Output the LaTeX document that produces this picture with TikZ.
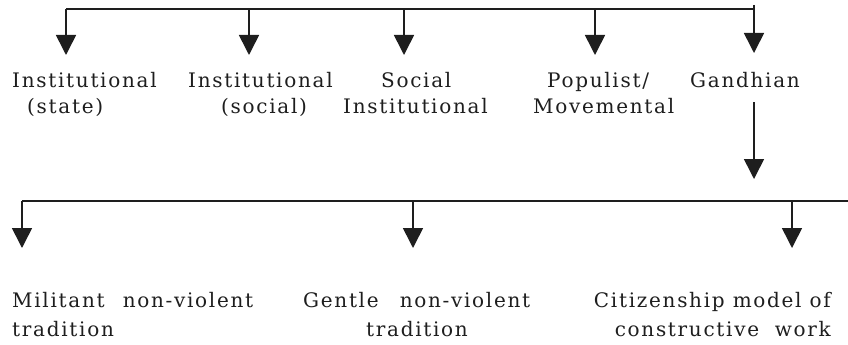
\documentclass[tikz,border=0pt]{standalone}
\usepackage{fontspec}
\setmainfont{DejaVu Serif}
\newfontfamily\lblfont[LetterSpace=8.5]{DejaVu Serif}
\usetikzlibrary{arrows.meta}
\definecolor{ink}{HTML}{1E1E1E}
\tikzset{
  bus/.style={draw=ink, line width=1.1pt},
  drop/.style={draw=ink, line width=1.6pt, -{Triangle[width=20pt,length=20pt]}},
  lbl/.style={inner sep=0pt, text=ink, font=\lblfont\fontsize{20}{23}\selectfont},
}
\begin{document}
\begin{tikzpicture}[x=1pt,y=-1pt]
\useasboundingbox (0,0) rectangle (848,345);
% upper bus
\coordinate (b1L) at (66,9);
\coordinate (b1R) at (754,9);
\coordinate (gTop) at (754,5);
\foreach \n/\x in {a/66,b/249,c/404,d/595}{
  \coordinate (s\n) at (\x,9);
  \coordinate (t\n) at (\x,55);
}
\coordinate (te) at (754,53);
\draw[bus] (b1L) -- (b1R);
\foreach \n in {a,b,c,d}{\draw[drop] (s\n) -- (t\n);}
\draw[drop] (gTop) -- (te);
% top labels
\node[lbl, anchor=base west] (a1) at (12,87) {Institutional};
\node[lbl, anchor=base west] (a2) at (27,113) {(state)};
\node[lbl, anchor=base west] (b1) at (188,87) {Institutional};
\node[lbl, anchor=base west] (b2) at (221,113) {(social)};
\node[lbl, anchor=base west] (c1) at (381,87) {Social};
\node[lbl, anchor=base west] (c2) at (343,113) {Institutional};
\node[lbl, anchor=base west] (d1) at (547,87) {Populist/};
\node[lbl, anchor=base west] (d2) at (533,113) {Movemental};
\node[lbl, anchor=base west] (e1) at (690,87) {Gandhian};
% Gandhian down
\coordinate (gs) at (754,102);
\coordinate (ge) at (754,179);
\draw[drop] (gs) -- (ge);
% lower bus
\coordinate (b2L) at (22,201);
\coordinate (b2R) at (848,201);
\draw[bus] (b2L) -- (b2R);
\foreach \n/\x in {f/22,g/413,h/792}{
  \coordinate (s\n) at (\x,201);
  \coordinate (t\n) at (\x,248);
  \draw[drop] (s\n) -- (t\n);
}
% bottom labels
\node[lbl, anchor=base west] (f1) at (12,307) {\makebox[241pt][s]{Militant non-violent}};
\node[lbl, anchor=base west] (f2) at (12,336) {tradition};
\node[lbl, anchor=base west] (g1) at (303,307) {\makebox[227pt][s]{Gentle non-violent}};
\node[lbl, anchor=base] (g2) at (417,336) {tradition};
\node[lbl, anchor=base east] (h1) at (831,307) {Citizenship model of};
\node[lbl, anchor=base east] (h2) at (831,336) {\makebox[216pt][s]{constructive work}};
\end{tikzpicture}
\end{document}
